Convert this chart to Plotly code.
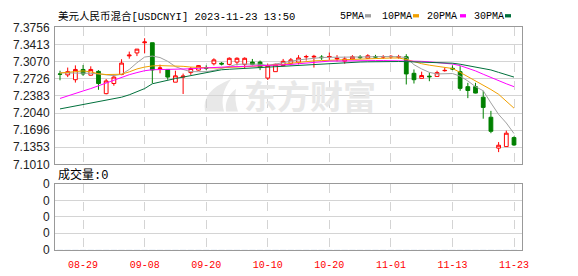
import plotly.graph_objects as go

dates = ["08-24","08-25","08-28","08-29","08-30","08-31","09-01","09-04","09-05","09-06",
         "09-07","09-08","09-11","09-12","09-13","09-14","09-15","09-18","09-19","09-20",
         "09-21","09-22","09-25","09-26","09-27","09-28","10-09","10-10","10-11","10-12",
         "10-13","10-16","10-17","10-18","10-19","10-20","10-23","10-24","10-25","10-26",
         "10-27","10-30","10-31","11-01","11-02","11-03","11-06","11-07","11-08","11-09",
         "11-10","11-13","11-14","11-15","11-16","11-17","11-20","11-21","11-22","11-23"]

open_ = [7.2823,7.2804,7.2708,7.2913,7.2798,7.2875,7.2428,7.2631,7.2811,7.3185,
         7.3244,7.3449,7.3449,7.2932,7.2913,7.2658,7.2760,7.2850,7.2900,7.2951,
         7.3028,7.3037,7.3015,7.3061,7.3015,7.3061,7.3061,7.2740,7.2869,7.2990,
         7.3037,7.3061,7.3165,7.3162,7.3162,7.3162,7.3124,7.3080,7.3124,7.3162,
         7.3137,7.3172,7.3162,7.3165,7.3160,7.3168,7.2836,7.2735,7.2779,7.2773,
         7.2888,7.2936,7.2869,7.2568,7.2568,7.2357,7.1955,7.1336,7.1367,7.1547]
high = [7.2888,7.2951,7.2995,7.3003,7.2976,7.2900,7.2721,7.2811,7.3118,7.3271,
        7.3321,7.3539,7.3449,7.3009,7.2913,7.2888,7.2830,7.2961,7.3000,7.2995,
        7.3137,7.3060,7.3156,7.3156,7.3156,7.3124,7.3091,7.3028,7.3028,7.3124,
        7.3143,7.3200,7.3206,7.3206,7.3200,7.3252,7.3200,7.3168,7.3200,7.3200,
        7.3219,7.3206,7.3200,7.3200,7.3206,7.3219,7.2913,7.2869,7.2850,7.2888,
        7.2951,7.2995,7.2980,7.2645,7.2645,7.2486,7.2083,7.1457,7.1687,7.1572]
low = [7.2696,7.2760,7.2650,7.2785,7.2790,7.2505,7.2415,7.2587,7.2798,7.3129,
       7.3181,7.3239,7.2635,7.2836,7.2708,7.2658,7.2421,7.2804,7.2890,7.2900,
       7.2995,7.2995,7.2995,7.2995,7.2932,7.2995,7.2900,7.2702,7.2869,7.2980,
       7.2995,7.3015,7.3091,7.2951,7.3105,7.3105,7.3076,7.3028,7.3105,7.3124,
       7.3124,7.3143,7.3124,7.3124,7.3130,7.2612,7.2631,7.2735,7.2677,7.2770,
       7.2869,7.2900,7.2486,7.2338,7.2434,7.1926,7.1635,7.1256,7.1367,7.1381]
close = [7.2818,7.2869,7.2913,7.2823,7.2913,7.2631,7.2683,7.2760,7.3041,7.3200,
         7.3321,7.3463,7.2903,7.2942,7.2760,7.2785,7.2779,7.2932,7.2990,7.2938,
         7.3105,7.3022,7.3137,7.3137,7.3137,7.3015,7.2951,7.2990,7.3015,7.3076,
         7.3105,7.3143,7.3172,7.3175,7.3150,7.3173,7.3137,7.3124,7.3168,7.3150,
         7.3187,7.3162,7.3170,7.3175,7.3168,7.2823,7.2708,7.2792,7.2767,7.2850,
         7.2894,7.2923,7.2534,7.2491,7.2440,7.2152,7.1673,7.1394,7.1635,7.1400]

ma5 = [7.2846,7.2846,7.2846,7.2836,7.2836,7.2823,7.2798,7.2788,7.2817,7.2913,
       7.3047,7.3162,7.3181,7.3152,7.3076,7.2970,7.2913,7.2869,7.2869,7.2869,
       7.2894,7.2932,7.2980,7.3015,7.3022,7.3022,7.3018,7.2995,7.3018,7.3041,
       7.3076,7.3105,7.3124,7.3143,7.3152,7.3156,7.3156,7.3156,7.3162,7.3166,
       7.3168,7.3168,7.3172,7.3175,7.3168,7.3152,7.3009,7.2923,7.2855,7.2823,
       7.2827,7.2831,7.2779,7.2683,7.2568,7.2486,7.2242,7.2012,7.1840,7.1629]
ma10 = [7.2842,7.2861,7.2875,7.2884,7.2865,7.2827,7.2811,7.2808,7.2817,7.2865,
        7.2923,7.2961,7.2984,7.2990,7.2990,7.2990,7.2976,7.2961,7.2951,7.2942,
        7.2942,7.2946,7.2951,7.2961,7.2970,7.2980,7.2984,7.2994,7.3003,7.3015,
        7.3037,7.3057,7.3076,7.3086,7.3091,7.3095,7.3105,7.3110,7.3118,7.3124,
        7.3129,7.3133,7.3137,7.3143,7.3143,7.3114,7.3066,7.3028,7.2999,7.2980,
        7.2961,7.2932,7.2855,7.2773,7.2683,7.2606,7.2511,7.2415,7.2281,7.2137]
ma20 = [7.2332,7.2386,7.2434,7.2482,7.2530,7.2587,7.2635,7.2693,7.2760,7.2808,
        7.2850,7.2888,7.2907,7.2909,7.2909,7.2909,7.2913,7.2926,7.2936,7.2946,
        7.2955,7.2961,7.2967,7.2970,7.2976,7.2980,7.2986,7.2990,7.2994,7.2999,
        7.3013,7.3028,7.3043,7.3057,7.3070,7.3080,7.3082,7.3086,7.3086,7.3088,
        7.3089,7.3091,7.3091,7.3091,7.3089,7.3086,7.3082,7.3076,7.3066,7.3053,
        7.3037,7.3022,7.2990,7.2942,7.2884,7.2817,7.2750,7.2683,7.2626,7.2568]
ma30 = [7.2122,7.2150,7.2179,7.2214,7.2242,7.2271,7.2294,7.2319,7.2357,7.2405,
        7.2463,7.2530,7.2626,7.2664,7.2696,7.2731,7.2760,7.2788,7.2827,7.2855,
        7.2884,7.2907,7.2917,7.2926,7.2932,7.2940,7.2947,7.2955,7.2965,7.2974,
        7.2984,7.2994,7.3003,7.3013,7.3022,7.3037,7.3047,7.3053,7.3058,7.3062,
        7.3066,7.3070,7.3072,7.3072,7.3072,7.3070,7.3066,7.3062,7.3058,7.3055,
        7.3049,7.3039,7.3018,7.2990,7.2965,7.2942,7.2903,7.2855,7.2808,7.2760]

volume = [0] * 60

tick_dates = ["08-29","09-08","09-20","10-10","10-20","11-01","11-13","11-23"]
price_ticks = [7.1010,7.1353,7.1696,7.2040,7.2383,7.2726,7.3070,7.3413,7.3756]
vol_tickvals = [0, 1, 2, 3, 4]
vol_ticktext = ["0", "0", "0", "0", "0"]

ma_names = ["5PMA", "10PMA", "20PMA", "30PMA"]
ma_colors = ["#a0a0a0", "#f0a000", "#ff00ff", "#00703c"]

W, H = 578, 276
L, R = 55, 56
PW = W - L - R

def px(x):
    return (x - L) / PW

def py(y):
    return (H - y) / H

fig = go.Figure()

for name, vals, col in zip(ma_names, [ma5, ma10, ma20, ma30], ma_colors):
    fig.add_trace(go.Scatter(x=dates, y=vals, mode="lines", name=name,
                             line=dict(color=col, width=1), hoverinfo="skip",
                             xaxis="x", yaxis="y"))

fig.add_trace(go.Candlestick(
    x=dates, open=open_, high=high, low=low, close=close,
    increasing=dict(line=dict(color="#ff0000", width=1), fillcolor="#ffffff"),
    decreasing=dict(line=dict(color="#008000", width=1), fillcolor="#008000"),
    whiskerwidth=0, xaxis="x", yaxis="y", showlegend=False))

fig.add_trace(go.Bar(x=dates, y=volume, xaxis="x2", yaxis="y2",
                     marker_color="#008000", showlegend=False))

grid = "#d4d4d4"
border = "#999999"
tickfont = dict(family="Liberation Sans, Arial", size=12, color="#222222")

fig.update_layout(
    width=W, height=H,
    margin=dict(l=L, r=R, t=0, b=0),
    paper_bgcolor="white", plot_bgcolor="white",
    showlegend=False,
    xaxis=dict(type="category", categoryorder="array", categoryarray=dates,
               range=[-0.65, 60.04], tickvals=tick_dates, showticklabels=False,
               showgrid=True, gridcolor=grid, griddash="dash", gridwidth=1,
               showline=True, mirror=True, linecolor=border, linewidth=1,
               ticks="", rangeslider=dict(visible=False), zeroline=False,
               anchor="y"),
    yaxis=dict(domain=[py(165.8), py(21.5)], range=[7.1010, 7.3756],
               tickvals=price_ticks, tickformat=".4f",
               showgrid=True, gridcolor=grid, gridwidth=1,
               showline=True, mirror=True, linecolor=border, linewidth=1,
               ticks="", tickfont=tickfont, zeroline=False,
               ticklabelstandoff=2, anchor="x"),
    xaxis2=dict(type="category", categoryorder="array", categoryarray=dates,
                range=[-0.65, 60.04], tickvals=tick_dates, ticktext=tick_dates,
                showgrid=True, gridcolor=grid, griddash="dash", gridwidth=1,
                showline=True, mirror=True, linecolor=border, linewidth=1,
                ticks="", zeroline=False, anchor="y2",
                tickfont=dict(family="Liberation Mono, monospace", size=10, color="#ff0000"),
                ticklabelstandoff=5),
    yaxis2=dict(domain=[py(255.5), py(186.5)], range=[0, 4],
                tickvals=vol_tickvals, ticktext=vol_ticktext,
                showgrid=True, gridcolor=grid, gridwidth=1,
                showline=True, mirror=True, linecolor=border, linewidth=1,
                ticks="", tickfont=tickfont, zeroline=False,
                ticklabelstandoff=2, anchor="x2"),
)

ann = []
ann.append(dict(text="美元人民币混合[USDCNYI] 2023-11-23 13:50", xref="paper", yref="paper",
                x=px(56), y=py(10), xanchor="left", yanchor="middle", showarrow=False,
                font=dict(family="Liberation Mono, Noto Sans CJK SC", size=10.5, color="#000000")))
ann.append(dict(text="成交量:0", xref="paper", yref="paper",
                x=px(56), y=py(177.5), xanchor="left", yanchor="middle", showarrow=False,
                font=dict(family="Liberation Mono, Noto Sans CJK SC", size=12, color="#000000")))
ann.append(dict(text="<b>东方财富</b>", xref="paper", yref="paper",
                x=px(310), y=py(93), xanchor="center", yanchor="middle", showarrow=False,
                font=dict(family="Noto Sans CJK SC", size=33, color="#e8e8e8")))

legend_text_x = [338, 380, 425, 472]
legend_sq_x = [365, 413, 460, 505]
shapes = []
for name, col, tx, sx in zip(ma_names, ma_colors, legend_text_x, legend_sq_x):
    ann.append(dict(text=name, xref="paper", yref="paper", x=px(tx), y=py(9.5),
                    xanchor="left", yanchor="middle", showarrow=False,
                    font=dict(family="Liberation Mono, monospace", size=10, color="#000000")))
    shapes.append(dict(type="rect", xref="paper", yref="paper",
                       x0=px(sx), x1=px(sx + 6), y0=py(11), y1=py(7.5),
                       fillcolor=col, line=dict(width=0)))

# watermark logo (light swoosh), drawn below the data
def pt(x, y):
    return f"{px(x):.5f},{py(y):.5f}"
logo = (f"M{pt(205,110)} Q{pt(201,88)} {pt(231,76)} Q{pt(219,92)} {pt(224,110)} Z "
        f"M{pt(226,110)} Q{pt(224,96)} {pt(236,86)} Q{pt(234,98)} {pt(238,110)} Z")
shapes.append(dict(type="path", xref="paper", yref="paper", path=logo,
                   fillcolor="#e8e8e8", line=dict(width=0), layer="below"))

fig.update_layout(annotations=ann, shapes=shapes)

fig.write_html("out.html")
